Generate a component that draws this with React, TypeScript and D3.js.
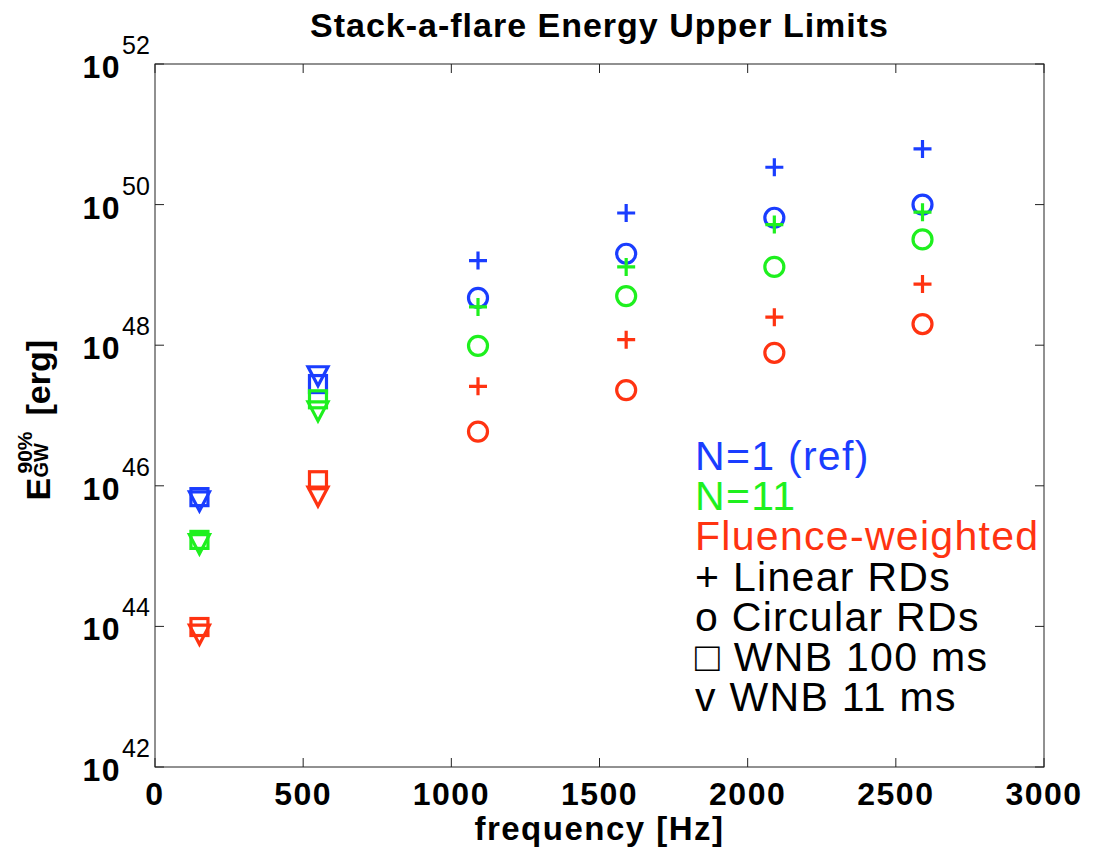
import React from "react";
import * as d3 from "d3";

// frequencies of the searches [Hz]
const RD_FREQ = [1090, 1590, 2090, 2590];
const WNB_FREQ = [150, 550];

// N=1 (ref)
const BLUE_LINEAR = [1.6e49, 7.6e49, 3.4e50, 6.2e50];
const BLUE_CIRC = [4.7e48, 2.0e49, 6.5e49, 1.0e50];
const BLUE_WNB100 = [6.9e45, 2.8e47];
const BLUE_WNB11 = [6.3e45, 3.8e47];
// N=11
const GREEN_LINEAR = [3.5e48, 1.3e49, 5.2e49, 7.8e49];
const GREEN_CIRC = [9.8e47, 5.0e48, 1.3e49, 3.2e49];
const GREEN_WNB100 = [1.7e45, 1.7e47];
const GREEN_WNB11 = [1.55e45, 1.2e47];
// Fluence-weighted
const RED_LINEAR = [2.6e47, 1.2e48, 2.5e48, 7.4e48];
const RED_CIRC = [5.9e46, 2.3e47, 7.8e47, 2.0e48];
const RED_WNB100 = [9.8e43, 1.2e46];
const RED_WNB11 = [8.0e43, 7.4e45];

const X_TICKS = [0, 500, 1000, 1500, 2000, 2500, 3000];
const Y_EXPONENTS = [42, 44, 46, 48, 50, 52];

const BLUE = "#1a3dff";
const GREEN = "#1ef01e";
const RED = "#ff3311";

const LEGEND = [
  { text: "N=1 (ref)", color: BLUE },
  { text: "N=11", color: GREEN },
  { text: "Fluence-weighted", color: RED },
  { text: "+ Linear RDs", color: "#000" },
  { text: "o Circular RDs", color: "#000" },
  { text: "\u25A1 WNB 100 ms", color: "#000" },
  { text: "v WNB 11 ms", color: "#000" },
];

const series = [
  { color: BLUE, marker: "plus", x: RD_FREQ, y: BLUE_LINEAR },
  { color: BLUE, marker: "circle", x: RD_FREQ, y: BLUE_CIRC },
  { color: BLUE, marker: "square", x: WNB_FREQ, y: BLUE_WNB100 },
  { color: BLUE, marker: "tri", x: WNB_FREQ, y: BLUE_WNB11 },
  { color: GREEN, marker: "plus", x: RD_FREQ, y: GREEN_LINEAR },
  { color: GREEN, marker: "circle", x: RD_FREQ, y: GREEN_CIRC },
  { color: GREEN, marker: "square", x: WNB_FREQ, y: GREEN_WNB100 },
  { color: GREEN, marker: "tri", x: WNB_FREQ, y: GREEN_WNB11 },
  { color: RED, marker: "plus", x: RD_FREQ, y: RED_LINEAR },
  { color: RED, marker: "circle", x: RD_FREQ, y: RED_CIRC },
  { color: RED, marker: "square", x: WNB_FREQ, y: RED_WNB100 },
  { color: RED, marker: "tri", x: WNB_FREQ, y: RED_WNB11 },
];

const W = 1104;
const H = 850;
const margin = { top: 64, right: 60, bottom: 83, left: 155 };

const FONT = "'Liberation Sans', Arial, Helvetica, sans-serif";
const bold = (size, spacing = 1.5) => ({
  fontFamily: FONT,
  fontWeight: 700,
  fontSize: size,
  letterSpacing: `${spacing}px`,
});

function Marker({ type, cx, cy, color }) {
  const common = { fill: "none", stroke: color, strokeWidth: 3.2 };
  if (type === "plus") {
    return <path d={`M${cx - 9},${cy}H${cx + 9}M${cx},${cy - 9}V${cy + 9}`} {...common} />;
  }
  if (type === "circle") return <circle cx={cx} cy={cy} r={9.5} {...common} />;
  if (type === "square") return <rect x={cx - 8.5} y={cy - 8.5} width={17} height={17} {...common} />;
  return <path d={`M${cx - 10},${cy - 8}L${cx + 10},${cy - 8}L${cx},${cy + 11}Z`} {...common} />;
}

export default function App() {
  const x = d3.scaleLinear().domain([0, 3000]).range([margin.left, W - margin.right]);
  const y = d3.scaleLog().domain([1e42, 1e52]).range([H - margin.bottom, margin.top]);
  const [x0, x1] = x.range();
  const [y0, y1] = y.range();

  return (
    <svg width={W} height={H} style={{ position: "absolute", left: 0, top: 0, background: "#fff" }}>
      <rect width={W} height={H} fill="#fff" />
      {/* title */}
      <text x={(x0 + x1) / 2} y={37} textAnchor="middle" {...bold(34, 1)}>
        Stack-a-flare Energy Upper Limits
      </text>

      {/* axes box */}
      <rect x={x0} y={y1} width={x1 - x0} height={y0 - y1} fill="none" stroke="#222" strokeWidth={1} />

      {/* x ticks */}
      {X_TICKS.map((t) => (
        <g key={t}>
          <line x1={x(t)} x2={x(t)} y1={y0} y2={y0 - 9} stroke="#222" />
          <line x1={x(t)} x2={x(t)} y1={y1} y2={y1 + 9} stroke="#222" />
          <text x={x(t)} y={805} textAnchor="middle" {...bold(32, 1.5)}>
            {t}
          </text>
        </g>
      ))}
      <text x={(x0 + x1) / 2} y={840} textAnchor="middle" {...bold(33, 1.5)}>
        frequency [Hz]
      </text>

      {/* y ticks */}
      {Y_EXPONENTS.map((e) => {
        const yy = y(Math.pow(10, e));
        return (
          <g key={e}>
            <line x1={x0} x2={x0 + 9} y1={yy} y2={yy} stroke="#222" />
            <line x1={x1} x2={x1 - 9} y1={yy} y2={yy} stroke="#222" />
            <text x={121} y={yy + 14} textAnchor="end" {...bold(32, 1.5)}>
              10
            </text>
            <text x={122} y={yy - 10} fontSize={25} fontFamily={FONT}>
              {e}
            </text>
          </g>
        );
      })}

      {/* y label */}
      <g transform={`translate(50,${(y0 + y1) / 2}) rotate(-90)`}>
        <text x={-85} y={0} {...bold(34, 0)}>E</text>
        <text x={-58} y={-18} {...bold(21, 0)}>90%</text>
        <text x={-62} y={-2} {...bold(20, 0)}>GW</text>
        <text x={0} y={0} {...bold(34, 0)}>[erg]</text>
      </g>

      {/* data */}
      {series.map((s, i) => (
        <g key={i}>
          {s.x.map((f, j) => (
            <Marker key={j} type={s.marker} cx={x(f)} cy={y(s.y[j])} color={s.color} />
          ))}
        </g>
      ))}

      {/* legend text */}
      {LEGEND.map((l, i) => (
        <text
          key={l.text}
          x={695}
          y={470 + i * 40.2}
          fontSize={41}
          letterSpacing="1.3px"
          fill={l.color}
          fontFamily={FONT}
        >
          {l.text}
        </text>
      ))}
    </svg>
  );
}
